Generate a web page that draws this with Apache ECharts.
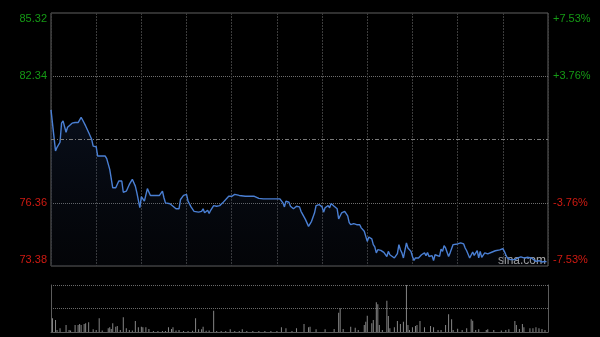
<!DOCTYPE html>
<html>
<head>
<meta charset="utf-8">
<script src="https://cdn.jsdelivr.net/npm/echarts@6/dist/echarts.min.js"></script>
<style>
html,body{margin:0;padding:0;background:#000;}
#chart{width:600px;height:337px;}
</style>
</head>
<body>
<div id="chart"></div>
<script>
// ---- data ----
const prevClose = 79.35;
const priceTicks = ['73.38', '76.36', '79.35', '82.34', '85.32'];
const pctTicks = ['-7.53%', '-3.76%', '0.00%', '+3.76%', '+7.53%'];
const sessionMinutes = 330;

const times = [0,3,4,6,7,8,10,11,12,14,16,18,20,21,23,25,27,28,30,31,34,36,37,39,41,43,45,47,48,50,
52,54,56,57,59,60,62,64,66,69,72,74,75,76,79,81,83,85,86,88,90,91,93,95,98,100,101,102,104,105,
106,108,110,112,114,115,118,120,122,123,125,129,135,138,141,148,152,153,154,155,156,158,159,160,161,163,165,166,169,171,
173,175,176,178,180,181,182,184,185,186,188,190,191,193,195,197,198,199,201,203,205,206,208,209,210,211,213,214,215,216,
217,218,219,221,222,223,224,225,226,228,229,230,231,232,233,234,236,237,239,240,241,242,243,244,246,248,249,250,251,252,
253,254,255,256,258,259,260,261,262,264,265,267,268,270,272,274,275,276,278,279,280,281,283,284,285,286,288,290,291,293,
295,296,298,300,301,302,303,305,306,308,310,312,314,316,319,320,322,324,326,328,329];
const prices = [80.75,78.81,78.98,79.22,80.12,80.23,79.69,79.93,80.02,80.12,80.15,80.15,80.39,80.27,79.99,79.68,79.36,79.04,79.01,78.57,78.57,78.57,78.45,77.94,77.07,77.07,77.39,77.39,76.86,76.91,
77.23,77.47,77.15,76.84,76.13,76.65,76.44,77.03,76.71,76.71,76.71,76.91,76.60,76.36,76.32,76.20,76.08,76.08,76.52,76.71,76.76,76.44,76.17,75.96,75.92,75.96,76.08,75.89,76.01,75.86,
76.01,76.23,76.20,76.23,76.36,76.44,76.67,76.67,76.76,76.67,76.71,76.67,76.67,76.57,76.55,76.55,76.55,76.60,76.36,76.17,76.44,76.39,76.20,76.23,76.08,76.20,76.17,75.96,75.57,75.25,
75.49,75.89,76.23,76.28,76.17,75.92,76.13,76.23,76.13,76.33,76.20,76.08,75.60,75.89,75.96,75.75,75.43,75.33,75.38,75.33,75.33,75.18,75.02,74.78,74.54,74.75,74.66,74.39,74.28,74.00,
74.15,74.07,74.12,74.02,74.07,73.83,74.07,73.91,74.00,73.76,73.68,73.96,74.39,74.15,74.00,73.76,74.47,74.23,74.07,73.83,73.64,73.76,73.83,73.76,73.91,74.00,73.87,74.02,73.83,73.76,
73.87,73.64,73.91,74.00,73.83,74.18,74.07,74.34,74.23,73.83,74.00,74.39,74.47,74.42,74.47,74.42,74.23,74.10,73.76,73.83,74.04,73.88,74.10,73.76,74.07,73.79,74.00,73.95,74.04,74.04,
74.10,74.04,74.14,74.20,74.07,73.91,73.76,73.68,73.60,73.68,73.76,73.81,73.76,73.79,73.76,73.68,73.60,73.63,73.57,73.60,73.57];

const volTimes = [1,3,4,6,10,12,13,16,18,19,20,22,23,25,28,30,32,34,38,39,40,41,43,44,46,48,50,52,54,56,
58,60,61,63,65,68,71,74,76,78,80,81,83,85,88,91,94,96,98,100,101,103,105,108,110,113,116,119,122,125,
127,130,134,138,142,146,150,153,156,160,163,168,171,172,176,182,188,191,192,194,199,202,204,208,209,210,213,214,216,217,
218,220,223,224,225,228,230,232,234,236,237,238,240,242,243,245,248,252,254,257,259,262,264,266,267,270,273,276,279,280,
282,284,289,290,294,299,302,304,308,309,311,313,314,318,320,322,324,326,328];
const volumes = [1370,1200,200,370,700,200,150,700,700,800,700,800,870,970,270,200,1370,150,370,470,300,870,530,600,200,1470,370,200,150,1100,
470,530,470,470,300,100,100,100,100,470,300,470,150,200,100,100,120,1370,270,270,530,130,150,2130,100,100,100,270,100,100,
270,100,100,100,100,100,100,470,370,100,370,800,470,530,270,270,300,1930,2370,300,530,430,200,700,1030,1630,870,1200,2970,2770,
700,200,3130,1600,370,470,1100,800,1030,4700,700,200,470,600,700,1100,470,600,470,200,200,700,1770,1270,200,330,200,370,1270,1130,
200,270,200,270,200,150,200,270,1100,700,300,800,470,370,370,470,370,300,200];

// ---- build ----
const green = '#159a15', red = '#d01a12';
const priceData = times.map((t, i) => [t, prices[i]]);
const volData = volTimes.map((t, i) => [t, volumes[i]]);
const pMin = parseFloat(priceTicks[0]), pMax = parseFloat(priceTicks[priceTicks.length - 1]);
const pInterval = (pMax - pMin) / (priceTicks.length - 1);
const volMax = Math.max.apply(null, volumes);

function labelRich(list, i) {
  const n = list.length - 1;
  if (i === 2) return '';
  const up = i > 2;
  const key = (up ? 'g' : 'r') + (i === n ? 't' : (i === 0 ? 'b' : ''));
  return '{' + key + '|' + list[i] + '}';
}
const rich = {
  g: {color: green}, r: {color: red},
  gt: {color: green, padding: [11, 0, 0, 0]},
  rb: {color: red, padding: [0, 0, 12, 0]}
};
const labelFont = {fontFamily: 'Arial', fontSize: 11};

const chart = echarts.init(document.getElementById('chart'), null, {renderer: 'canvas'});
chart.setOption({
  backgroundColor: '#000',
  animation: false,
  grid: [
    {left: 51, right: 52, top: 13, height: 253, show: true, borderColor: '#606060', borderWidth: 1, backgroundColor: 'transparent'},
    {left: 51, right: 52, top: 285, height: 47}
  ],
  xAxis: [
    {type: 'value', gridIndex: 0, min: 0, max: sessionMinutes, interval: 30,
     axisLine: {show: false}, axisTick: {show: false}, axisLabel: {show: false},
     splitLine: {show: true, lineStyle: {color: '#3c3c3c', type: [2, 1], width: 1}}},
    {type: 'value', gridIndex: 1, min: 0, max: sessionMinutes,
     axisLine: {show: true, lineStyle: {color: '#5c5c5c'}}, axisTick: {show: false}, axisLabel: {show: false},
     splitLine: {show: false}}
  ],
  yAxis: [
    {type: 'value', gridIndex: 0, min: pMin, max: pMax, interval: pInterval, position: 'left',
     axisLine: {show: false}, axisTick: {show: false},
     axisLabel: Object.assign({margin: 4, formatter: (v, i) => labelRich(priceTicks, i), rich: rich}, labelFont),
     splitLine: {show: true, lineStyle: {color: ['transparent', '#6e6e6e', 'transparent', '#6e6e6e', 'transparent'], type: [1, 1], width: 1}}},
    {type: 'value', gridIndex: 0, min: pMin, max: pMax, interval: pInterval, position: 'right',
     axisLine: {show: false}, axisTick: {show: false},
     axisLabel: Object.assign({margin: 5, formatter: (v, i) => labelRich(pctTicks, i), rich: rich}, labelFont),
     splitLine: {show: false}},
    {type: 'value', gridIndex: 1, min: 0, max: volMax, interval: volMax / 2, position: 'left',
     axisLine: {show: true, lineStyle: {color: '#5c5c5c'}}, axisTick: {show: false}, axisLabel: {show: false},
     splitLine: {show: true, lineStyle: {color: '#6a6a6a', type: [1, 1], width: 1}}},
    {type: 'value', gridIndex: 1, min: 0, max: volMax, position: 'right',
     axisLine: {show: true, lineStyle: {color: '#5c5c5c'}}, axisTick: {show: false}, axisLabel: {show: false},
     splitLine: {show: false}}
  ],
  series: [
    {type: 'line', xAxisIndex: 0, yAxisIndex: 0, data: priceData, symbol: 'none', smooth: false,
     lineStyle: {color: '#4a7fd3', width: 1.4},
     areaStyle: {origin: 'start', color: new echarts.graphic.LinearGradient(0, 0, 0, 1, [
       {offset: 0, color: 'rgba(35,60,110,0.35)'}, {offset: 1, color: 'rgba(25,35,60,0.18)'}])},
     markLine: {silent: true, symbol: 'none', label: {show: false},
       lineStyle: {color: '#7a7a7a', type: [4, 2, 1, 2], width: 1},
       data: [{yAxis: prevClose}]}},
    {type: 'bar', xAxisIndex: 1, yAxisIndex: 2, data: volData, barWidth: 1,
     itemStyle: {color: '#858585'}}
  ],
  graphic: [
    {type: 'text', left: 498, top: 255, silent: true,
     style: {text: 'sina.com', fill: 'rgba(215,215,215,0.8)', font: '12px Arial'}}
  ]
});
</script>
</body>
</html>
